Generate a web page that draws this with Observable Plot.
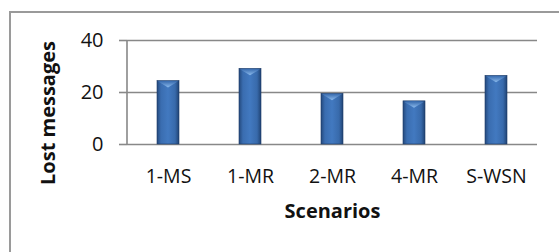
<!DOCTYPE html>
<html>
<head>
<meta charset="utf-8">
<script src="https://cdn.jsdelivr.net/npm/d3@7"></script>
<script src="https://cdn.jsdelivr.net/npm/@observablehq/plot@0.6"></script>
<style>
  html, body { margin: 0; padding: 0; background: #fff; }
  #wrap { position: relative; width: 559px; height: 252px; overflow: hidden; }
  #box { position: absolute; left: 9px; top: 11px; width: 570px; height: 270px; border: 2px solid #9a9a9a; box-sizing: border-box; }
  #chart { position: absolute; left: 0; top: 0; }
</style>
</head>
<body>
<div id="wrap"><div id="box"></div><div id="chart"></div></div>
<script>
const categories = ["1-MS", "1-MR", "2-MR", "4-MR", "S-WSN"];
const values = [24.4, 29.1, 19.5, 16.6, 26.4];
const yTicks = [0, 20, 40];
const xTitle = "Scenarios";
const yTitle = "Lost messages";

const data = categories.map((c, i) => ({scenario: c, value: values[i]}));

const defs = () => {
  const g = d3.create("svg:defs");
  const lg = g.append("linearGradient").attr("id", "barGrad").attr("x1", 0).attr("x2", 1).attr("y1", 0).attr("y2", 0);
  lg.append("stop").attr("offset", "0%").attr("stop-color", "#24497d");
  lg.append("stop").attr("offset", "18%").attr("stop-color", "#3a6db0");
  lg.append("stop").attr("offset", "50%").attr("stop-color", "#4279c0");
  lg.append("stop").attr("offset", "82%").attr("stop-color", "#386aab");
  lg.append("stop").attr("offset", "100%").attr("stop-color", "#204374");
  const tg = g.append("linearGradient").attr("id", "topGrad").attr("x1", 0).attr("x2", 0).attr("y1", 0).attr("y2", 1);
  tg.append("stop").attr("offset", "0%").attr("stop-color", "#3a6db0");
  tg.append("stop").attr("offset", "100%").attr("stop-color", "#8dbcee");
  return g.node();
};

const yAxisLine = (index, scales, values, dims) => {
  const g = d3.create("svg:g");
  g.append("line")
    .attr("x1", dims.marginLeft).attr("x2", dims.marginLeft)
    .attr("y1", scales.y(0)).attr("y2", scales.y(40))
    .attr("stroke", "#888").attr("stroke-width", 1.6);
  return g.node();
};

const bevelMark = (index, scales, values, dims) => {
  const g = d3.create("svg:g");
  const bw = scales.x.bandwidth ? scales.x.bandwidth() : 22;
  for (const d of data) {
    const x0 = scales.x(d.scenario);
    const top = scales.y(d.value);
    g.append("path")
      .attr("d", `M${x0 + 1},${top + 0.8}L${x0 + bw - 1},${top + 0.8}L${x0 + bw / 2},${top + 7}Z`)
      .attr("fill", "url(#topGrad)");
  }
  return g.node();
};

const yTitleMark = (index, scales, values, dims) => {
  const g = d3.create("svg:g");
  const cy = (scales.y(0) + scales.y(40)) / 2 + 21;
  g.append("text")
    .attr("transform", `translate(${dims.marginLeft - 79},${cy}) rotate(-90)`)
    .attr("text-anchor", "middle")
    .attr("dy", "0.35em")
    .attr("font-size", 20)
    .attr("font-weight", "bold")
    .attr("fill", "#111")
    .text(yTitle);
  return g.node();
};

const chart = Plot.plot({
  width: 559,
  height: 252,
  marginLeft: 127,
  marginRight: 22,
  marginTop: 40,
  marginBottom: 108,
  style: {fontFamily: "'Open Sans', sans-serif", background: "transparent", overflow: "visible"},
  x: {domain: categories, paddingInner: 0.73, paddingOuter: 0.365, label: null},
  y: {domain: [0, 40], label: null},
  marks: [
    defs,
    Plot.ruleY(yTicks, {stroke: "#888", strokeWidth: 1.6}),
    yAxisLine,
    Plot.axisY(yTicks, {tickSize: 8, tickPadding: 16, fontSize: 20, stroke: "#888", strokeWidth: 1.6, fill: "#111", label: null}),
    Plot.axisX({tickSize: 0, tickPadding: 25, fontSize: 19.5, fill: "#111", label: null}),
    Plot.barY(data, {x: "scenario", y: "value", fill: "url(#barGrad)", stroke: "#1d3b66", strokeWidth: 0.6}),
    bevelMark,
    Plot.text([xTitle], {frameAnchor: "bottom", dy: 59, lineAnchor: "top", fontSize: 20, fontWeight: "bold", fill: "#111"}),
    yTitleMark
  ]
});
document.getElementById("chart").appendChild(chart);
</script>
</body>
</html>
